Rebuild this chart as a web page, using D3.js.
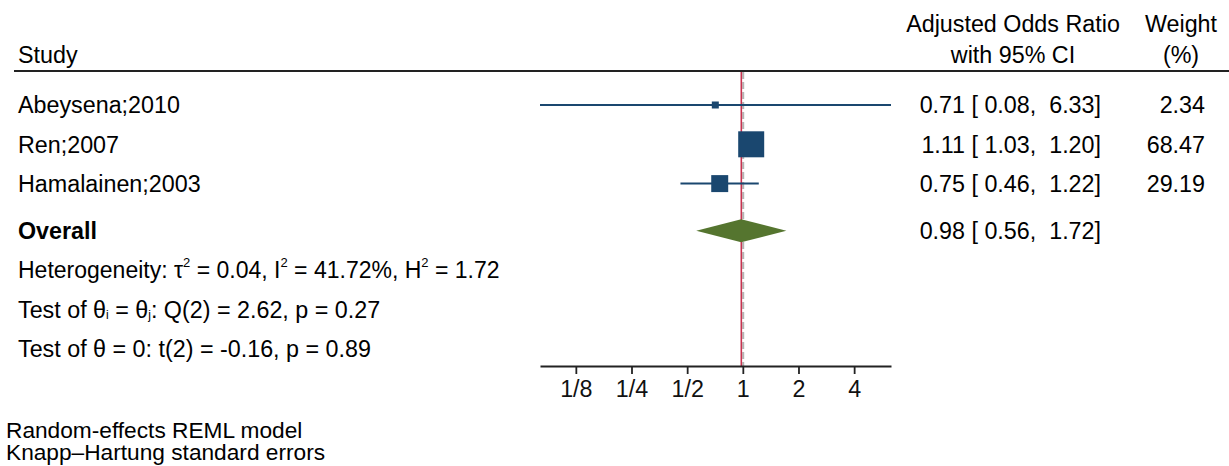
<!DOCTYPE html>
<html>
<head>
<meta charset="utf-8">
<script src="https://cdn.jsdelivr.net/npm/d3@7"></script>
<style>
  html, body { margin: 0; padding: 0; background: #fff; }
  svg { display: block; font-family: "Liberation Sans", Arial, sans-serif; }
  text { white-space: pre; }
</style>
</head>
<body>
<svg id="chart" width="1229" height="466"></svg>
<script>
// ---- data ----
const studies = ["Abeysena;2010", "Ren;2007", "Hamalainen;2003"];
const oddsRatio = [0.71, 1.11, 0.75];
const ciLow = [0.08, 1.03, 0.46];
const ciHigh = [6.33, 1.20, 1.22];
const weights = [2.34, 68.47, 29.19];
const overall = { label: "Overall", or: 0.98, lo: 0.56, hi: 1.72 };
const tickValues = [0.125, 0.25, 0.5, 1, 2, 4];
const tickLabels = ["1/8", "1/4", "1/2", "1", "2", "4"];
// row index: studies 0..2, overall 3.2, stats lines 4.2, 5.2, 6.2
const studyRows = [0, 1, 2];
const overallRow = 3.2;
const statRows = [4.2, 5.2, 6.2];

const svg = d3.select("#chart");
const FS = 23.3;
const navy = "#1a476f", green = "#55752f", red = "#c8334f";

const x = d3.scaleLog().base(2).domain([d3.min(ciLow), d3.max(ciHigh)]).range([540, 891]);
const y = d3.scaleLinear().domain([0, 1]).range([105, 144.3]);
const size = d3.scaleSqrt().domain([0, d3.max(weights)]).range([0, 26]);

const sepY = 71, axisY = 366;

// header
svg.append("text").attr("x", 18).attr("y", 63).attr("font-size", FS).text("Study");
svg.append("text").attr("x", 1013).attr("y", 32).attr("font-size", FS).attr("text-anchor", "middle").text("Adjusted Odds Ratio");
svg.append("text").attr("x", 1013).attr("y", 63).attr("font-size", FS).attr("text-anchor", "middle").text("with 95% CI");
svg.append("text").attr("x", 1181).attr("y", 32).attr("font-size", FS).attr("text-anchor", "middle").text("Weight");
svg.append("text").attr("x", 1181).attr("y", 63).attr("font-size", FS).attr("text-anchor", "middle").text("(%)");
svg.append("line").attr("x1", 14).attr("x2", 1229).attr("y1", sepY).attr("y2", sepY)
  .attr("stroke", "#222").attr("stroke-width", 2);

// overall dashed line and no-effect line
svg.append("line").attr("x1", x(overall.or) + 2).attr("x2", x(overall.or) + 2).attr("y1", sepY + 1).attr("y2", axisY)
  .attr("stroke", "#b4b4b4").attr("stroke-width", 2).attr("stroke-dasharray", "7,3");
svg.append("line").attr("x1", x(1) - 1.5).attr("x2", x(1) - 1.5).attr("y1", sepY + 1).attr("y2", axisY)
  .attr("stroke", red).attr("stroke-width", 1.6);

// study rows
const rows = svg.append("g");
studies.forEach((s, i) => {
  const cy = y(studyRows[i]);
  rows.append("text").attr("x", 18).attr("y", cy + 8.3).attr("font-size", FS).text(s);
  rows.append("line").attr("x1", x(ciLow[i])).attr("x2", x(ciHigh[i])).attr("y1", cy).attr("y2", cy)
    .attr("stroke", navy).attr("stroke-width", 2);
  const sz = Math.max(size(weights[i]), 7);
  rows.append("rect").attr("x", x(oddsRatio[i]) - sz / 2).attr("y", cy - sz / 2)
    .attr("width", sz).attr("height", sz).attr("fill", navy);
  rows.append("text").attr("x", 1101).attr("y", cy + 8.3).attr("font-size", FS).attr("text-anchor", "end")
    .text(`${oddsRatio[i].toFixed(2)} [ ${ciLow[i].toFixed(2)},  ${ciHigh[i].toFixed(2)}]`);
  rows.append("text").attr("x", 1205).attr("y", cy + 8.3).attr("font-size", FS).attr("text-anchor", "end")
    .text(weights[i].toFixed(2));
});

// overall
const oy = y(overallRow);
svg.append("text").attr("x", 18).attr("y", oy + 8.3).attr("font-size", FS).attr("font-weight", "bold").text(overall.label);
svg.append("path")
  .attr("d", `M${x(overall.lo)},${oy} L${x(overall.or)},${oy - 11.5} L${x(overall.hi)},${oy} L${x(overall.or)},${oy + 11.5} Z`)
  .attr("fill", green);
svg.append("text").attr("x", 1101).attr("y", oy + 8.3).attr("font-size", FS).attr("text-anchor", "end")
  .text(`${overall.or.toFixed(2)} [ ${overall.lo.toFixed(2)},  ${overall.hi.toFixed(2)}]`);

// stats lines
const t1 = svg.append("text").attr("x", 18).attr("y", y(statRows[0]) + 8.3).attr("font-size", 23);
t1.append("tspan").text("Heterogeneity: τ");
t1.append("tspan").attr("font-size", 13).attr("dy", -11).text("2");
t1.append("tspan").attr("dy", 11).text(" = 0.04, I");
t1.append("tspan").attr("font-size", 13).attr("dy", -11).text("2");
t1.append("tspan").attr("dy", 11).text(" = 41.72%, H");
t1.append("tspan").attr("font-size", 13).attr("dy", -11).text("2");
t1.append("tspan").attr("dy", 11).text(" = 1.72");

const t2 = svg.append("text").attr("x", 18).attr("y", y(statRows[1]) + 8.3).attr("font-size", FS);
t2.append("tspan").text("Test of θ");
t2.append("tspan").attr("font-size", 12).attr("dy", 1).text("i");
t2.append("tspan").attr("dy", -1).text(" = θ");
t2.append("tspan").attr("font-size", 12).attr("dy", 1).text("j");
t2.append("tspan").attr("dy", -1).text(": Q(2) = 2.62, p = 0.27");

svg.append("text").attr("x", 18).attr("y", y(statRows[2]) + 8.3).attr("font-size", FS)
  .text("Test of θ = 0: t(2) = -0.16, p = 0.89");

// axis
const axis = d3.axisBottom(x).tickValues(tickValues)
  .tickFormat((d, i) => tickLabels[i]).tickSize(8).tickSizeOuter(0).tickPadding(6);
const ag = svg.append("g").attr("transform", `translate(0,${axisY})`).call(axis);
ag.select(".domain").attr("stroke", "#222").attr("stroke-width", 1.8);
ag.selectAll(".tick line").attr("stroke", "#222").attr("stroke-width", 1.8);
ag.selectAll(".tick text").attr("font-size", FS).attr("fill", "#111")
  .attr("font-family", "Liberation Sans, Arial, sans-serif");

// footnotes
svg.append("text").attr("x", 6).attr("y", 438).attr("font-size", 22.7).text("Random-effects REML model");
svg.append("text").attr("x", 6).attr("y", 460).attr("font-size", 22.7).text("Knapp–Hartung standard errors");
</script>
</body>
</html>
